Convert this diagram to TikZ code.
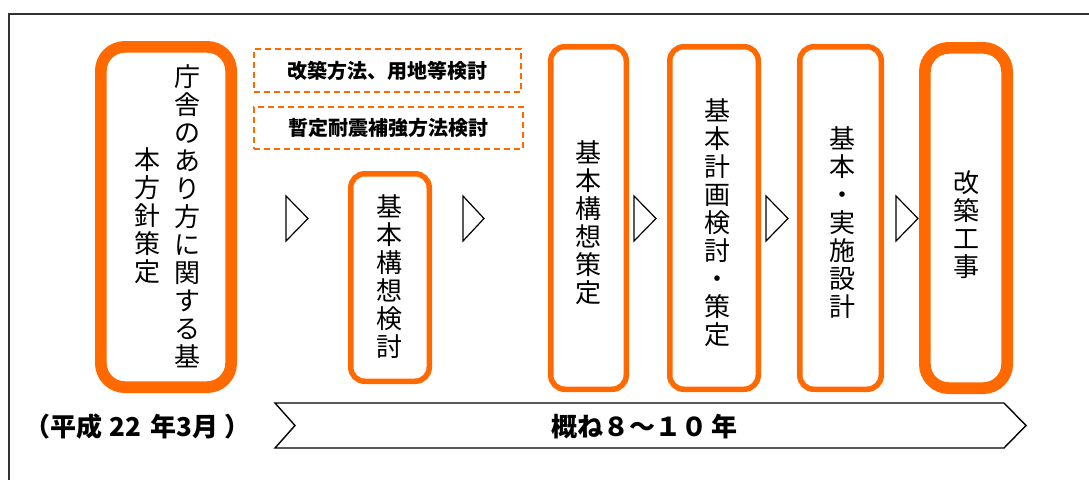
\documentclass[tikz,border=0pt]{standalone}
\usepackage{fontspec}
\usepackage{graphicx}
\newfontfamily\cjk{Noto Sans CJK JP}
\definecolor{boxor}{RGB}{255,105,0}
\definecolor{framegray}{RGB}{50,50,50}
\begin{document}
\begin{tikzpicture}[x=1pt,y=-1pt,
  box/.style={draw=boxor, line width=5.5pt, rounded corners=14pt, inner sep=0pt, fill=white},
  thickbox/.style={box, line width=11.7pt, rounded corners=24pt},
  vtext/.style={font=\cjk\fontsize{26}{28}\selectfont, align=center, inner sep=0pt},
  dbox/.style={draw=boxor, line width=1.6pt, dash pattern=on 6pt off 4pt, inner sep=0pt, font=\cjk\bfseries\fontsize{20}{22}\selectfont},
  tri/.style={draw=black, line width=1.2pt, line join=miter, fill=white},
  chev/.style={draw=black, line width=1.4pt, line join=miter, fill=white},
  lbl/.style={font=\cjk\bfseries\fontsize{26}{28}\selectfont, inner sep=0pt, anchor=west}]
\useasboundingbox (0,0) rectangle (1089,479);
\fill[white] (0,0) rectangle (1089,479);
% frame
\draw[framegray, line width=1.5pt] (9,490) -- (9,14) -- (1100,14);
% dashed boxes
\node[dbox, minimum width=267pt, minimum height=43pt] (d1) at (387.5,70.5) {改築方法、用地等検討};
\node[dbox, minimum width=269pt, minimum height=42pt] (d2) at (388.5,128) {暫定耐震補強方法検討};
% process boxes
\node[thickbox, minimum width=130.3pt, minimum height=340.3pt] (b1) at (166,217) {};
\node[vtext] (t1a) at (187,216.5) {庁\\舎\\の\\あ\\り\\方\\に\\関\\す\\る\\基};
\node[vtext] (t1b) at (147,215.5) {本\\方\\針\\策\\定};
\node[box, minimum width=78.5pt, minimum height=207.5pt] (b2) at (390,277.5) {};
\node[vtext] (t2) at (389,276.5) {基\\本\\構\\想\\検\\討};
\node[box, minimum width=75.5pt, minimum height=342.5pt] (b3) at (588.5,218) {};
\node[vtext] (t3) at (588,223) {基\\本\\構\\想\\策\\定};
\node[box, minimum width=88.5pt, minimum height=342.5pt] (b4) at (714,218) {};
\node[vtext] (t4) at (717,222.5) {基\\本\\計\\画\\検\\討\\・\\策\\定};
\node[box, minimum width=81.5pt, minimum height=342.5pt] (b5) at (840.5,218) {};
\node[vtext] (t5) at (842,223) {基\\本\\・\\実\\施\\設\\計};
\node[thickbox, minimum width=82.3pt, minimum height=340.3pt] (b6) at (966,218) {};
\node[vtext] (t6) at (966,224.5) {改\\築\\工\\事};
% step triangles
\draw[tri] (286,196) -- (308,218.5) -- (286,241) -- cycle;
\draw[tri] (463,196) -- (484,218.5) -- (463,241) -- cycle;
\draw[tri] (634,196) -- (656,218.5) -- (634,241) -- cycle;
\draw[tri] (766,196) -- (788,218.5) -- (766,241) -- cycle;
\draw[tri] (896,196) -- (918,218.5) -- (896,241) -- cycle;
% span chevron
\draw[chev] (275,403) -- (1004,403) -- (1026,425.5) -- (1004,448) -- (275,448) -- (295,425.5) -- cycle;
\node[lbl] (l1) at (24,427) {（平成\hspace{7pt}22\hspace{10pt}年3月\hspace{6pt}）};
\node[lbl] (l2) at (551,427) {概ね８～１０\hspace{4pt}年};
\end{tikzpicture}
\end{document}
